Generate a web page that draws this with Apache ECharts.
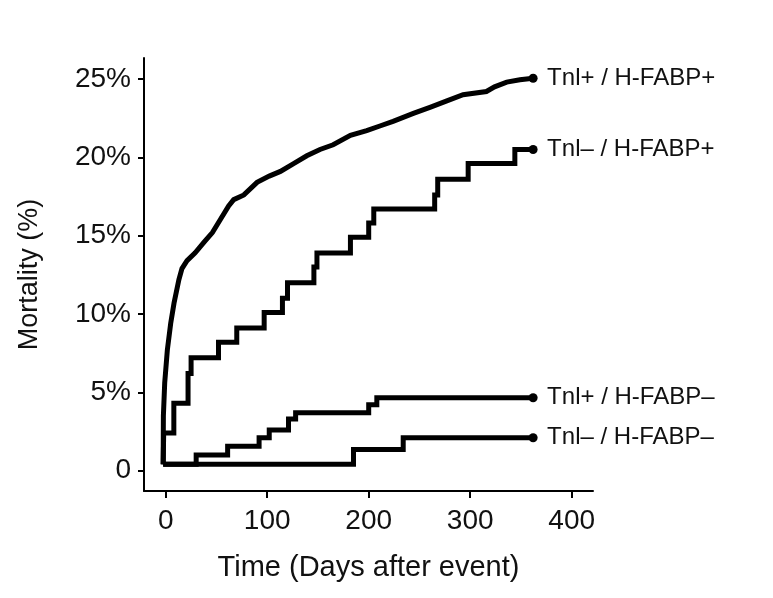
<!DOCTYPE html>
<html>
<head>
<meta charset="utf-8">
<script src="https://cdn.jsdelivr.net/npm/echarts@6/dist/echarts.min.js"></script>
<style>
  html, body { margin: 0; padding: 0; background: #fff; }
  #chart { width: 773px; height: 598px; }
</style>
</head>
<body>
<div id="chart"></div>
<script>
// ---- data ----
const seriesNames = ['Tnl+ / H-FABP+', 'Tnl\u2013 / H-FABP+', 'Tnl+ / H-FABP\u2013', 'Tnl\u2013 / H-FABP\u2013'];

const days1 = [-2.5, -2.3, -1, 1.6, 4.9, 8.2, 13, 16, 21, 29, 38, 46, 54, 62, 67, 77, 90, 102, 113, 126, 139, 152, 165, 182, 198, 211, 224, 244, 261, 277, 293, 316, 324, 336, 349, 362];
const mort1 = [0.4, 3.5, 5.6, 7.7, 9.4, 10.7, 12.2, 12.9, 13.4, 13.9, 14.6, 15.2, 16.05, 16.9, 17.3, 17.6, 18.4, 18.8, 19.1, 19.6, 20.1, 20.5, 20.8, 21.4, 21.7, 22.0, 22.3, 22.8, 23.2, 23.6, 24.0, 24.2, 24.5, 24.8, 24.95, 25.05];

const days2 = [-2.5, -2, 8, 22, 25, 52, 70, 97, 115, 120, 146, 149, 182, 200, 205, 265, 268, 298, 344, 362];
const mort2 = [0.4, 2.4, 4.3, 6.2, 7.2, 8.2, 9.1, 10.1, 11.0, 12.0, 13.0, 13.9, 14.9, 15.8, 16.7, 17.6, 18.6, 19.6, 20.5, 20.5];

const days3 = [-2.5, 30, 61, 92, 102, 121, 128, 200, 208, 362];
const mort3 = [0.4, 1.0, 1.55, 2.1, 2.6, 3.3, 3.7, 4.2, 4.65, 4.65];

const days4 = [-2.5, 185, 234, 362];
const mort4 = [0.4, 1.35, 2.1, 2.1];

const xTickValues = [0, 100, 200, 300, 400];
const yTickValues = [0, 5, 10, 15, 20, 25];
const yTickLabels = ['0', '5%', '10%', '15%', '20%', '25%'];

// ---- chart ----
const FONT = '"Liberation Sans", Arial, sans-serif';
const pair = (xs, ys) => xs.map((x, i) => [x, ys[i]]);
const allDays = [days1, days2, days3, days4];
const allMort = [mort1, mort2, mort3, mort4];

function makeSeries(i) {
  const data = pair(allDays[i], allMort[i]);
  const last = data.length - 1;
  return {
    name: seriesNames[i],
    type: 'line',
    step: i === 0 ? false : 'end',
    data: data,
    showSymbol: true,
    symbol: 'circle',
    symbolSize: (v, p) => (p.dataIndex === last ? 9 : 0),
    itemStyle: { color: '#000' },
    lineStyle: { color: '#000', width: 5, join: 'miter' },
    endLabel: {
      show: true,
      formatter: seriesNames[i],
      distance: 14,
      color: '#111',
      fontFamily: FONT,
      fontSize: 24
    },
    emphasis: { disabled: true },
    z: 3
  };
}

const chart = echarts.init(document.getElementById('chart'), null, { renderer: 'canvas' });
chart.setOption({
  animation: false,
  backgroundColor: '#fff',
  grid: { left: 144, right: 180, top: 58, bottom: 107, containLabel: false },
  xAxis: {
    type: 'value',
    min: -21.4,
    max: 421,
    name: 'Time (Days after event)',
    nameLocation: 'middle',
    nameGap: 62,
    nameTextStyle: { fontFamily: FONT, fontSize: 29, color: '#111' },
    axisLine: { show: true, onZero: false, lineStyle: { color: '#000', width: 2 } },
    axisTick: { show: true, length: 7, customValues: xTickValues, lineStyle: { color: '#000', width: 2 } },
    axisLabel: { customValues: xTickValues, margin: 16, fontFamily: FONT, fontSize: 28, color: '#111' },
    splitLine: { show: false }
  },
  yAxis: {
    type: 'value',
    min: -1.3,
    max: 26.34,
    name: 'Mortality (%)',
    nameLocation: 'middle',
    nameGap: 101,
    nameTextStyle: { fontFamily: FONT, fontSize: 27, color: '#111' },
    axisLine: { show: true, onZero: false, lineStyle: { color: '#000', width: 2 } },
    axisTick: { show: true, length: 6, customValues: yTickValues, lineStyle: { color: '#000', width: 2 } },
    axisLabel: {
      customValues: yTickValues,
      margin: 13,
      fontFamily: FONT,
      fontSize: 28,
      color: '#111',
      formatter: (v) => yTickLabels[yTickValues.indexOf(v)]
    },
    splitLine: { show: false }
  },
  series: [0, 1, 2, 3].map(makeSeries)
});
</script>
</body>
</html>
